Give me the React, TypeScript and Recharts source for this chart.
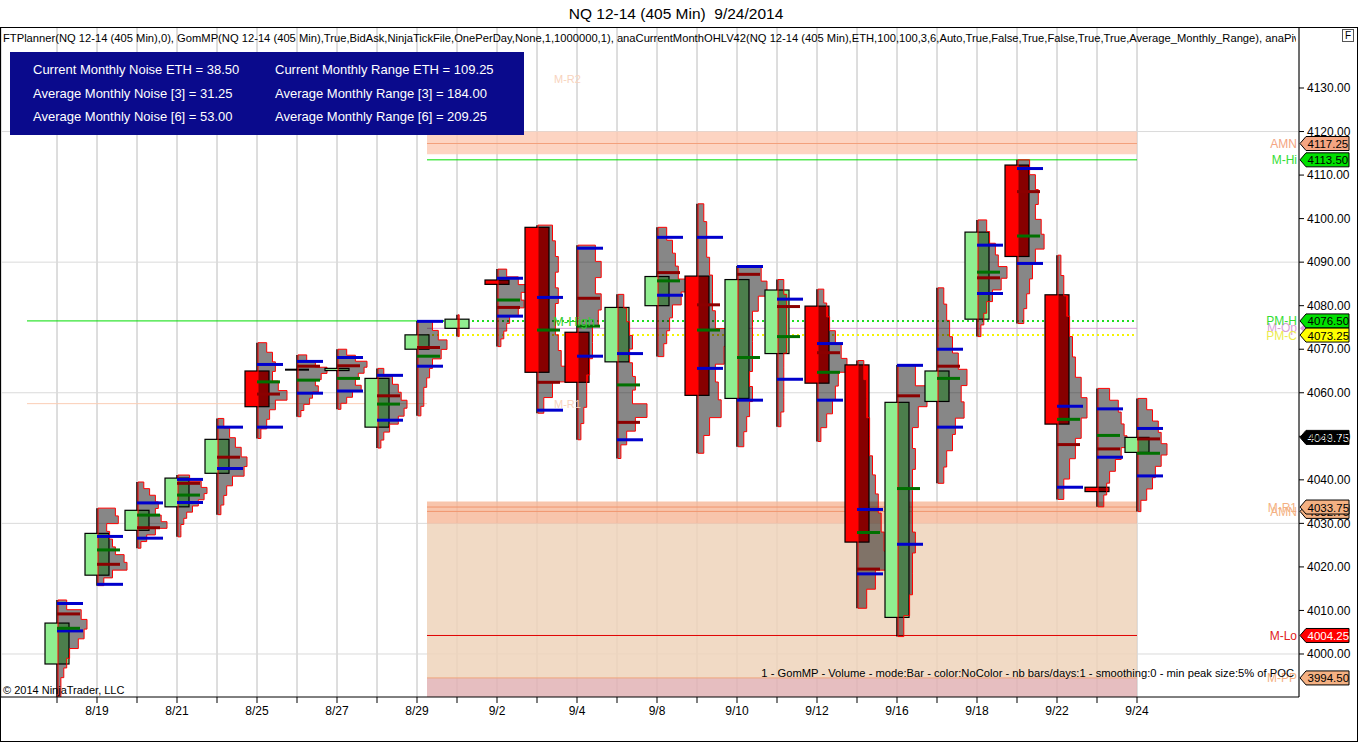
import React from "react";
import {
  ComposedChart,
  Bar,
  XAxis,
  YAxis,
  CartesianGrid,
  ReferenceLine,
  ReferenceArea,
} from "recharts";

const FONT = "Arial, 'Liberation Sans', sans-serif";

// one 405-minute bar per session
const dates = [
  "8/18", "8/19", "8/20", "8/21", "8/22", "8/25", "8/26", "8/27", "8/28", "8/29",
  "9/1", "9/2", "9/3", "9/4", "9/5", "9/8", "9/9", "9/10", "9/11", "9/12",
  "9/15", "9/16", "9/17", "9/18", "9/19", "9/22", "9/23", "9/24",
];
const labeledDates = [
  "8/19", "8/21", "8/25", "8/27", "8/29", "9/2", "9/4",
  "9/8", "9/10", "9/12", "9/16", "9/18", "9/22", "9/24",
];

const opens = [
  3997.7, 4018.1, 4028.4, 4033.8, 4041.5, 4065.0, 4065.3, 4065.1, 4052.1, 4070.0,
  4074.8, 4085.9, 4098.0, 4073.9, 4067.1, 4080.0, 4086.8, 4058.7, 4069.0, 4079.9,
  4066.4, 4008.4, 4058.0, 4076.9, 4112.3, 4082.5, 4038.3, 4046.3,
];
const highs = [
  4012.4, 4033.5, 4039.5, 4041.1, 4054.1, 4071.5, 4068.7, 4070.0, 4065.6, 4076.5,
  4077.9, 4088.4, 4098.5, 4093.9, 4082.6, 4098.0, 4103.4, 4089.1, 4086.0, 4083.8,
  4067.4, 4066.4, 4084.1, 4099.7, 4113.5, 4091.6, 4061.0, 4058.7,
];
const lows = [
  3990.1, 4015.7, 4024.3, 4026.9, 4032.0, 4049.5, 4054.5, 4056.2, 4047.3, 4054.7,
  4072.9, 4070.6, 4055.3, 4049.2, 4044.9, 4068.3, 4046.1, 4047.6, 4052.2, 4048.8,
  4010.5, 4004.0, 4039.2, 4072.9, 4075.9, 4035.5, 4033.8, 4032.7,
];
const closes = [
  4007.1, 4027.7, 4033.0, 4040.4, 4049.3, 4056.8, 4065.3, 4065.6, 4063.3, 4073.3,
  4076.9, 4084.9, 4064.7, 4062.4, 4079.6, 4086.7, 4059.4, 4086.0, 4083.6, 4062.2,
  4025.7, 4057.8, 4065.0, 4096.9, 4091.3, 4052.8, 4037.3, 4049.75,
];

// GomMP levels per bar
const vaHigh = [
  4011.6, 4027.0, 4034.7, 4040.1, 4052.1, 4066.5, 4067.2, 4068.1, 4064.0, 4076.4,
  null, 4086.3, 4081.9, 4093.2, 4069.0, 4095.7, 4095.7, 4089.0, 4081.5, 4071.3,
  4033.2, 4066.3, 4070.0, 4093.9, 4111.5, 4056.9, 4056.3, 4051.8,
];
const vaLow = [
  4005.3, 4016.0, 4026.6, 4034.8, 4042.6, 4052.1, 4059.9, 4060.4, 4053.7, 4066.1,
  null, 4077.6, 4056.0, 4068.4, 4049.2, 4082.4, 4065.6, 4058.3, 4063.1, 4058.3,
  4018.4, 4025.2, 4052.1, 4082.8, 4089.7, 4038.3, 4045.2, 4040.9,
];
const pocs = [
  4009.2, 4020.6, 4029.0, 4039.2, 4045.2, 4059.7, 4066.1, 4066.2, 4059.3, 4070.4,
  null, 4079.6, 4062.4, 4081.7, 4053.2, 4087.6, 4080.2, 4087.2, 4079.8, 4069.2,
  4019.5, 4059.3, 4066.1, 4086.4, 4106.2, 4048.1, 4047.1, 4049.4,
];
const vwaps = [
  4005.9, 4023.9, 4031.9, 4036.5, null, 4062.5, 4062.9, 4063.3, 4057.4, 4068.4,
  null, 4081.3, 4074.4, 4075.3, 4061.8, 4085.7, 4074.4, 4068.1, 4072.9, 4064.7,
  4027.9, 4038.0, 4063.3, 4087.7, 4096.0, 4053.9, 4050.2, 4046.1,
];

// volume profile per bar, from high to low (relative volume)
const profiles = [
  [3, 8, 10, 9, 7, 4, 3, 2, 1, 1],
  [6, 7, 3, 4, 5, 6, 9, 10, 5, 2],
  [2, 4, 6, 7, 6, 8, 10, 6, 3, 1],
  [4, 8, 10, 9, 7, 5, 3, 2, 1, 1],
  [2, 4, 6, 8, 10, 9, 5, 3, 2, 1],
  [3, 5, 6, 5, 7, 10, 6, 4, 3, 1],
  [3, 6, 10, 8, 6, 7, 5, 4, 2, 1],
  [3, 6, 10, 9, 7, 6, 8, 5, 3, 1],
  [2, 5, 7, 8, 10, 9, 7, 4, 2, 1],
  [5, 7, 10, 8, 5, 4, 3, 2, 2, 1],
  [0.4, 0.4, 0.4],
  [3, 7, 10, 8, 9, 7, 4, 3, 2, 1],
  [5, 6, 7, 6, 7, 6, 6, 7, 8, 10, 5, 2],
  [6, 8, 6, 8, 7, 5, 5, 4, 3, 3, 2, 1],
  [2, 3, 4, 5, 4, 5, 6, 5, 10, 6, 3, 1],
  [3, 5, 6, 7, 10, 8, 5, 4, 3, 2],
  [2, 3, 3, 4, 5, 5, 6, 10, 9, 6, 7, 8, 4, 2],
  [8, 10, 7, 5, 5, 5, 5, 4, 5, 4, 3, 2],
  [2, 3, 3, 3, 3, 2, 2, 2, 2, 1],
  [2, 3, 4, 6, 8, 10, 7, 6, 5, 3, 1],
  [2, 3, 3, 4, 4, 5, 6, 7, 8, 9, 10, 6, 3],
  [6, 10, 7, 5, 6, 5, 5, 5, 6, 5, 5, 4, 2],
  [2, 3, 4, 5, 7, 10, 8, 9, 6, 5, 3, 2],
  [3, 4, 6, 7, 10, 8, 5, 3, 2, 1],
  [4, 6, 7, 6, 8, 9, 6, 5, 4, 3, 2],
  [1, 2, 3, 4, 5, 6, 8, 10, 8, 6, 4, 2],
  [4, 7, 8, 9, 10, 8, 6, 4, 3, 2],
  [3, 5, 7, 8, 10, 8, 6, 5, 3, 1],
];

const priceTicks = [4000, 4010, 4020, 4030, 4040, 4050, 4060, 4070, 4080, 4090, 4100, 4110, 4120, 4130];
const gridLevels = [4000, 4030, 4060, 4090, 4120];

// monthly levels (anaCurrentMonthOHLV / pivots)
const monthStart = 9.25;
const prevStart = -0.75;
const lastBar = 27;
const flags = [
  { v: 4117.25, text: "4117.25", bg: "#f4a582", fg: "#000", name: "AMN", nc: "#f4a582" },
  { v: 4113.5, text: "4113.50", bg: "#00e000", fg: "#000", name: "M-Hi", nc: "#33dd33" },
  { v: 4074.8, text: "", bg: "#dda0dd", fg: "#000", name: "M-Op", nc: "#d8a0d8" },
  { v: 4076.5, text: "4076.50", bg: "#00e000", fg: "#000", name: "PM-H", nc: "#33dd33" },
  { v: 4073.25, text: "4073.25", bg: "#ffff00", fg: "#000", name: "PM-C", nc: "#ecec50" },
  { v: 4049.75, text: "4049.75", bg: "#000000", fg: "#fff", name: "", nc: "#000" },
  { v: 4032.75, text: "4032.75", bg: "#f4b183", fg: "#000", name: "AMN", nc: "#f4b183" },
  { v: 4033.75, text: "4033.75", bg: "#f4b183", fg: "#000", name: "M-R1", nc: "#f4b183" },
  { v: 4004.25, text: "4004.25", bg: "#ff0000", fg: "#fff", name: "M-Lo", nc: "#e02020" },
  { v: 3994.5, text: "3994.50", bg: "#f4b183", fg: "#000", name: "M-PP", nc: "#f4b183" },
];

const data = dates.map((d, i) => ({
  i,
  date: d,
  open: opens[i],
  high: highs[i],
  low: lows[i],
  close: closes[i],
  range: [lows[i], highs[i]],
  vah: vaHigh[i],
  val: vaLow[i],
  poc: pocs[i],
  vwap: vwaps[i],
  profile: profiles[i],
}));

const indicatorText =
  "FTPlanner(NQ 12-14 (405 Min),0), GomMP(NQ 12-14 (405 Min),True,BidAsk,NinjaTickFile,OnePerDay,None,1,1000000,1), anaCurrentMonthOHLV42(NQ 12-14 (405 Min),ETH,100,100,3,6,Auto,True,False,True,False,True,True,Average_Monthly_Range), anaPivots";

function CandleWithProfile(props: any) {
  const { x, y, width, height, payload } = props;
  if (!payload || !(height > 0)) return null;
  const { open, close, high, low, profile } = payload;
  const k = height / (high - low);
  const py = (p: number) => y + (high - p) * k;
  const cx = x + width / 2;
  const up = close >= open;
  const bTop = py(Math.max(open, close));
  const bBot = py(Math.min(open, close));

  // step-shaped profile to the right of the bar centre
  const n = profile.length;
  const step = height / n;
  let d = `M${cx + 1},${y}`;
  profile.forEach((w: number, j: number) => {
    const px = cx + 1 + w * 2.9;
    d += ` L${px},${y + j * step} L${px},${y + (j + 1) * step}`;
  });
  d += ` L${cx + 1},${y + height} Z`;

  const mark = (p: number | null, color: string, len: number, key: string) =>
    p == null ? null : (
      <line key={key} x1={cx} x2={cx + len} y1={py(p)} y2={py(p)} stroke={color} strokeWidth={3} />
    );

  return (
    <g>
      <line x1={cx} x2={cx} y1={y} y2={y + height} stroke="#000" strokeWidth={1.5} />
      {bBot - bTop < 1 ? (
        <line x1={x} x2={x + width} y1={bTop} y2={bTop} stroke="#000" strokeWidth={2} />
      ) : (
        <rect
          x={x}
          y={bTop}
          width={width}
          height={bBot - bTop}
          fill={up ? "#90ee90" : "#ff0000"}
          stroke="#000"
          strokeWidth={1.2}
        />
      )}
      <path d={d} fill="rgba(0,0,0,0.47)" stroke="#ff0000" strokeWidth={1} />
      {mark(payload.vah, "#0000cc", 26, "a")}
      {mark(payload.val, "#0000cc", 26, "b")}
      {mark(payload.vwap, "#007000", 23, "c")}
      {mark(payload.poc, "#8b0000", 23, "d")}
    </g>
  );
}

function flagLabel(f: (typeof flags)[number]) {
  return (p: any) => {
    const vb = p.viewBox || {};
    const xr = vb.x + vb.width;
    const y = vb.y;
    if (!f.text) {
      return (
        <g>
          <text x={xr - 2} y={y + 4} textAnchor="end" fontSize={12} fontFamily={FONT} fill={f.nc}>
            {f.name}
          </text>
          <path d={`M${xr + 1},${y} L${xr + 5},${y - 4} L${xr + 9},${y} L${xr + 5},${y + 4} Z`} fill={f.bg} />
        </g>
      );
    }
    return (
      <g>
        {f.name ? (
          <text x={xr - 2} y={y + 4.5} textAnchor="end" fontSize={12} fontFamily={FONT} fill={f.nc}>
            {f.name}
          </text>
        ) : null}
        <path
          d={`M${xr + 1},${y} L${xr + 7},${y - 7} L${xr + 50},${y - 7} L${xr + 50},${y + 7} L${xr + 7},${y + 7} Z`}
          fill={f.bg}
          stroke="#000"
          strokeWidth={1}
        />
        <text x={xr + 8.5} y={y + 4.5} fontSize={11.5} fontFamily={FONT} fill={f.fg}>
          {f.text}
        </text>
      </g>
    );
  };
}

function textAt(txt: string, color: string, dx: number, size: number) {
  return (p: any) => {
    const vb = p.viewBox || {};
    return (
      <text x={vb.x + dx} y={vb.y + size * 0.36} fontSize={size} fontFamily={FONT} fill={color}>
        {txt}
      </text>
    );
  };
}

export default function App() {
  return (
    <div style={{ position: "absolute", left: 0, top: 0, width: 1360, height: 743, background: "#fff" }}>
      <ComposedChart
        width={1360}
        height={743}
        data={data}
        margin={{ top: 28, right: 0, bottom: 0, left: 1 }}
      >
        <CartesianGrid horizontal={false} stroke="#bcbcbc" strokeWidth={1} />
        <CartesianGrid vertical={false} horizontalValues={gridLevels} stroke="#dadada" strokeWidth={1} />
        <XAxis
          dataKey="i"
          type="number"
          domain={[-1.4, 31.05]}
          allowDataOverflow
          ticks={data.map((r) => r.i)}
          interval={0}
          height={46}
          tickSize={6}
          tickMargin={3}
          stroke="#000"
          tick={{ fontFamily: FONT, fontSize: 12, fill: "#000" }}
          tickFormatter={(v: number) => (labeledDates.includes(dates[v]) ? dates[v] : "")}
        />
        <YAxis
          orientation="right"
          width={61}
          domain={[3990.12, 4143.78]}
          allowDataOverflow
          ticks={priceTicks}
          interval={0}
          tickSize={5}
          tickMargin={3}
          stroke="#000"
          tick={{ fontFamily: FONT, fontSize: 12, fill: "#000" }}
          tickFormatter={(v: number) => v.toFixed(2)}
        />

        <ReferenceArea zIndex={-60} x1={monthStart} x2={lastBar} y1={4114.8} y2={4120} fill="#fcc9b3" fillOpacity={0.8} stroke="none" />
        <ReferenceArea zIndex={-60} x1={monthStart} x2={lastBar} y1={4029.9} y2={4035} fill="#f6b697" fillOpacity={0.8} stroke="none" />
        <ReferenceArea zIndex={-60} x1={monthStart} x2={lastBar} y1={3994.5} y2={4029.9} fill="#eed3bb" fillOpacity={0.85} stroke="none" />
        <ReferenceArea zIndex={-60} x1={monthStart} x2={lastBar} y1={3990.12} y2={3994.5} fill="#e2b3b5" fillOpacity={0.85} stroke="none" />

        <ReferenceLine zIndex={-40} segment={[{ x: monthStart, y: 4117.25 }, { x: lastBar, y: 4117.25 }]} stroke="#f3a07c" />
        <ReferenceLine zIndex={-40} segment={[{ x: monthStart, y: 4113.5 }, { x: lastBar, y: 4113.5 }]} stroke="#00dd00" />
        <ReferenceLine zIndex={-40} segment={[{ x: prevStart, y: 4076.5 }, { x: monthStart, y: 4076.5 }]} stroke="#00dd00" />
        <ReferenceLine zIndex={-40} segment={[{ x: monthStart, y: 4076.5 }, { x: lastBar, y: 4076.5 }]} stroke="#22dd22" strokeWidth={2} strokeDasharray="2 3" />
        <ReferenceLine zIndex={-40} segment={[{ x: monthStart, y: 4074.8 }, { x: lastBar, y: 4074.8 }]} stroke="#d8a0d8" />
        <ReferenceLine zIndex={-40} segment={[{ x: monthStart, y: 4073.25 }, { x: lastBar, y: 4073.25 }]} stroke="#f5f500" strokeWidth={2} strokeDasharray="2 3" />
        <ReferenceLine zIndex={-40} segment={[{ x: prevStart, y: 4057.5 }, { x: monthStart, y: 4057.5 }]} stroke="#fbcdb5" />
        <ReferenceLine zIndex={-40} segment={[{ x: monthStart, y: 4033.75 }, { x: lastBar, y: 4033.75 }]} stroke="#f0956e" />
        <ReferenceLine zIndex={-40} segment={[{ x: monthStart, y: 4032.75 }, { x: lastBar, y: 4032.75 }]} stroke="#f0956e" />
        <ReferenceLine zIndex={-40} segment={[{ x: monthStart, y: 4004.25 }, { x: lastBar, y: 4004.25 }]} stroke="#e00000" />
        <ReferenceLine zIndex={-40} segment={[{ x: monthStart, y: 3994.5 }, { x: lastBar, y: 3994.5 }]} stroke="#efa57e" />

        <ReferenceLine y={4132} stroke="none" label={textAt("M-R2", "#f8d3bd", 553, 11)} />
        <ReferenceLine y={4076.5} stroke="none" label={textAt("M-High", "#33cc33", 552, 13)} />
        <ReferenceLine y={4057.5} stroke="none" label={textAt("M-R1", "#f8d3bd", 553, 11)} />

        <Bar dataKey="range" barSize={24} shape={CandleWithProfile} isAnimationActive={false} />

        {flags.map((f) => (
          <ReferenceLine key={f.name + f.v} y={f.v} stroke="none" label={flagLabel(f)} />
        ))}
      </ComposedChart>

      <svg
        width={1360}
        height={743}
        style={{ position: "absolute", left: 0, top: 0, pointerEvents: "none" }}
      >
        <defs>
          <clipPath id="ind-clip">
            <rect x={0} y={28} width={1296} height={20} />
          </clipPath>
        </defs>
        <text x={676} y={19} textAnchor="middle" fontSize={15.5} fontFamily={FONT} fill="#000" style={{ whiteSpace: "pre" }}>
          {"NQ 12-14 (405 Min)  9/24/2014"}
        </text>
        <rect x={0.5} y={27.5} width={1357} height={714} fill="none" stroke="#000" strokeWidth={1} />
        <text x={3} y={42} fontSize={11.2} fontFamily={FONT} fill="#000" clipPath="url(#ind-clip)">
          {indicatorText}
        </text>
        <rect x={1342.5} y={29.5} width={11} height={12} fill="#fff" stroke="#555" />
        <text x={1348} y={39} textAnchor="middle" fontSize={10} fontFamily={FONT} fill="#000">
          F
        </text>

        <rect x={10} y={52} width={514} height={83} fill="#0a0a8c" />
        <g fontSize={13} fontFamily={FONT} fill="#fff">
          <text x={33} y={74}>Current Monthly Noise ETH = 38.50</text>
          <text x={33} y={98}>Average Monthly Noise [3] = 31.25</text>
          <text x={33} y={121}>Average Monthly Noise [6] = 53.00</text>
          <text x={275} y={74}>Current Monthly Range ETH = 109.25</text>
          <text x={275} y={98}>Average Monthly Range [3] = 184.00</text>
          <text x={275} y={121}>Average Monthly Range [6] = 209.25</text>
        </g>

        <text x={1294} y={677} textAnchor="end" fontSize={11.2} fontFamily={FONT} fill="#000">
          1 - GomMP - Volume - mode:Bar - color:NoColor - nb bars/days:1 - smoothing:0 - min peak size:5% of POC
        </text>
        <text x={3} y={694} fontSize={11} fontFamily={FONT} fill="#000">
          © 2014 NinjaTrader, LLC
        </text>
      </svg>
    </div>
  );
}
